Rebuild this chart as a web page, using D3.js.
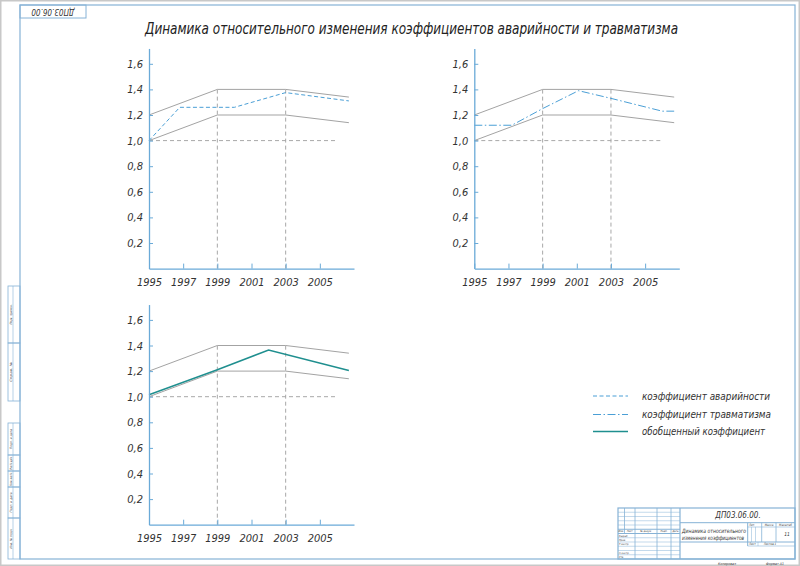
<!DOCTYPE html>
<html>
<head>
<meta charset="utf-8">
<script src="https://cdn.jsdelivr.net/npm/d3@7"></script>
<style>
  body { margin: 0; background: #fff; }
  svg text { font-family: 'Liberation Sans Narrow', 'DejaVu Sans Condensed', 'DejaVu Sans', sans-serif; font-style: italic; fill: #333; }
</style>
</head>
<body>
<div id="plot"></div>
<script>
// ---------------- data ----------------
const yearTicks = [1995, 1997, 1999, 2001, 2003, 2005];
const valueTicks = [0.2, 0.4, 0.6, 0.8, 1.0, 1.2, 1.4, 1.6];

// corridor (upper / lower) drawn in every panel
const upperBand = [[1995, 1.2], [1999, 1.4], [2003, 1.4], [2006.7, 1.34]];
const lowerBand = [[1995, 1.0], [1999, 1.2], [2003, 1.2], [2006.7, 1.14]];
const baseLine = [[1995, 1.0], [2006, 1.0]];
const markYears = [1999, 2003];
const markTop = 1.4;

const accidentRate = [[1995, 1.0], [1996.8, 1.26], [2000, 1.26], [2003, 1.375], [2006.7, 1.31]];
const injuryRate = [[1995, 1.12], [1997.2, 1.12], [1999, 1.25], [2001.1, 1.39], [2003, 1.33], [2006, 1.23], [2006.7, 1.23]];
const generalRate = [[1995, 1.015], [1999, 1.21], [2002, 1.365], [2006.7, 1.205]];

const legendLabels = ["коэффициент аварийности", "коэффициент травматизма", "обобщенный коэффициент"];
const titleText = "Динамика относительного изменения коэффициентов аварийности и травматизма";

// ---------------- styles ----------------
const axisColor = "#6aaad8";
const bandColor = "#a3a3a3";
const gridColor = "#a8a8a8";
const frameColor = "#86b2d6";
const seriesStyle = [
  { data: accidentRate, color: "#4a9fd6", dash: "4,2.5", width: 1 },
  { data: injuryRate, color: "#4a9fd6", dash: "8,2.5,1.5,2.5", width: 1 },
  { data: generalRate, color: "#1f8f8f", dash: null, width: 1.5 }
];

const W = 800, H = 566;
const svg = d3.select("#plot").append("svg").attr("width", W).attr("height", H);

// ---------------- sheet / frame ----------------
svg.append("rect").attr("x", 0.75).attr("y", 0.75).attr("width", W - 1.5).attr("height", H - 1.5)
  .attr("fill", "none").attr("stroke", "#c8c8c8").attr("stroke-width", 1.5);
svg.append("rect").attr("x", 20).attr("y", 5).attr("width", 775).attr("height", 554)
  .attr("fill", "none").attr("stroke", frameColor).attr("stroke-width", 1.2);

// stamp top-left (upside down)
svg.append("rect").attr("x", 20).attr("y", 5).attr("width", 66).attr("height", 13)
  .attr("fill", "none").attr("stroke", frameColor);
svg.append("text").attr("transform", "translate(53,11.5) rotate(180)")
  .attr("text-anchor", "middle").attr("dy", "0.35em").attr("font-size", 8).text("ДП03.06.00");

// left margin boxes
const sideBoxes = [[286, 343, "Перв. примен."], [343, 401, "Справ. №"],
  [423, 455, "Подп. и дата"], [455, 471, "Инв. № дубл."], [471, 487, "Взам. инв. №"],
  [487, 518, "Подп. и дата"], [518, 559, "Инв. № подл."]];
const side = svg.append("g");
sideBoxes.forEach(b => {
  side.append("rect").attr("x", 8).attr("y", b[0]).attr("width", 12).attr("height", b[1] - b[0])
    .attr("fill", "none").attr("stroke", frameColor).attr("stroke-width", 0.8);
  side.append("line").attr("x1", 13).attr("x2", 13).attr("y1", b[0]).attr("y2", b[1])
    .attr("stroke", frameColor).attr("stroke-width", 0.6);
  side.append("text").attr("transform", `translate(10.5,${(b[0] + b[1]) / 2}) rotate(-90)`)
    .attr("text-anchor", "middle").attr("dy", "0.35em").attr("font-size", 3)
    .attr("textLength", Math.min(20, b[1] - b[0] - 3)).attr("lengthAdjust", "spacingAndGlyphs")
    .text(b[2]);
});

// ---------------- title ----------------
svg.append("text").attr("x", 145).attr("y", 34).attr("font-size", 15)
  .attr("textLength", 533).attr("lengthAdjust", "spacingAndGlyphs")
  .style("fill", "#222").text(titleText);

// ---------------- panels ----------------
const panelW = 205, unitH = 128, yMax = 1.72;
const x = d3.scaleLinear().domain([1995, 2007]).range([0, panelW]);
const y = d3.scaleLinear().domain([0, yMax]).range([yMax * unitH, 0]);
const line = d3.line().x(d => x(d[0])).y(d => y(d[1]));

const panels = [
  { left: 149, bottom: 268.6, series: 0 },
  { left: 474.3, bottom: 268.6, series: 1 },
  { left: 149, bottom: 524.7, series: 2 }
];

panels.forEach(p => {
  const g = svg.append("g").attr("transform", `translate(${p.left},${p.bottom - yMax * unitH})`);

  // dashed guide lines
  g.append("path").attr("d", line(baseLine)).attr("fill", "none")
    .attr("stroke", gridColor).attr("stroke-dasharray", "4,3");
  g.selectAll(".mark").data(markYears).enter().append("line")
    .attr("x1", d => x(d)).attr("x2", d => x(d)).attr("y1", y(0)).attr("y2", y(markTop))
    .attr("stroke", gridColor).attr("stroke-dasharray", "4,3");

  // corridor
  [upperBand, lowerBand].forEach(b => {
    g.append("path").attr("d", line(b)).attr("fill", "none")
      .attr("stroke", bandColor).attr("stroke-width", 1);
  });

  // series
  const s = seriesStyle[p.series];
  g.append("path").attr("d", line(s.data)).attr("fill", "none")
    .attr("stroke", s.color).attr("stroke-width", s.width)
    .attr("stroke-dasharray", s.dash);

  // axes
  const yAxis = d3.axisLeft(y).tickValues(valueTicks).tickSize(-4).tickSizeOuter(0).tickPadding(6)
    .tickFormat(d => d.toFixed(1).replace(".", ","));
  const xAxis = d3.axisBottom(x).tickValues(yearTicks).tickSize(-5).tickSizeOuter(0).tickPadding(10)
    .tickFormat(d => d);
  const ya = g.append("g").call(yAxis);
  const xa = g.append("g").attr("transform", `translate(0,${y(0)})`).call(xAxis);
  [ya, xa].forEach(a => {
    a.select(".domain").attr("stroke", axisColor).attr("stroke-width", 1.3);
    a.selectAll(".tick line").attr("stroke", axisColor);
    a.selectAll(".tick text").attr("font-size", 11).style("font-family", null);
  });
});

// ---------------- legend ----------------
const legend = svg.append("g").attr("id", "legend");
const legendY = [396, 414.5, 431.5];
const legendTextLen = [128, 129, 123];
seriesStyle.forEach((s, i) => {
  legend.append("line").attr("x1", 593).attr("x2", 628).attr("y1", legendY[i]).attr("y2", legendY[i])
    .attr("stroke", s.color).attr("stroke-width", s.width).attr("stroke-dasharray", s.dash);
  legend.append("text").attr("x", 642).attr("y", legendY[i]).attr("dy", "0.35em")
    .attr("font-size", 11).attr("textLength", legendTextLen[i]).attr("lengthAdjust", "spacingAndGlyphs")
    .text(legendLabels[i]);
});

// ---------------- title block ----------------
const tb = svg.append("g").attr("stroke", frameColor).attr("fill", "none");
const tbL = 618, tbR = 795, tbT = 508, tbB = 559, tbMid = 680;
tb.append("rect").attr("x", tbL).attr("y", tbT).attr("width", tbR - tbL).attr("height", tbB - tbT).attr("stroke-width", 1.2);
const rows = 12, rowH = (tbB - tbT) / rows;
d3.range(1, rows).forEach(i => {
  tb.append("line").attr("x1", tbL).attr("x2", tbMid).attr("y1", tbT + i * rowH).attr("y2", tbT + i * rowH)
    .attr("stroke-width", i === 5 || i === 6 ? 1 : 0.5);
});
[624.5, 635, 657, 671].forEach((cx, i) => {
  tb.append("line").attr("x1", cx).attr("x2", cx).attr("y1", tbT).attr("y2", i === 0 ? tbT + 6 * rowH : tbB)
    .attr("stroke-width", 0.8);
});
tb.append("line").attr("x1", tbMid).attr("x2", tbMid).attr("y1", tbT).attr("y2", tbB).attr("stroke-width", 1.2);
tb.append("line").attr("x1", tbMid).attr("x2", tbR).attr("y1", 522.7).attr("y2", 522.7).attr("stroke-width", 1);
tb.append("line").attr("x1", tbMid).attr("x2", tbR).attr("y1", 542).attr("y2", 542).attr("stroke-width", 1);
tb.append("line").attr("x1", 747.7).attr("x2", tbR).attr("y1", 527).attr("y2", 527).attr("stroke-width", 0.6);
tb.append("line").attr("x1", 747.7).attr("x2", tbR).attr("y1", 546).attr("y2", 546).attr("stroke-width", 0.6);
tb.append("line").attr("x1", 747.7).attr("x2", 747.7).attr("y1", 522.7).attr("y2", 546).attr("stroke-width", 1);
[761.7, 776].forEach(cx => tb.append("line").attr("x1", cx).attr("x2", cx).attr("y1", 522.7).attr("y2", 542).attr("stroke-width", 0.8));
[751.5, 755.5].forEach(cx => tb.append("line").attr("x1", cx).attr("x2", cx).attr("y1", 527).attr("y2", 542).attr("stroke-width", 0.5));
tb.append("line").attr("x1", 758).attr("x2", 758).attr("y1", 542).attr("y2", 546).attr("stroke-width", 0.5);

const tbText = (tx, ty, size, str, anchor, len) => {
  const t = svg.append("text").attr("x", tx).attr("y", ty)
    .attr("font-size", size).attr("text-anchor", anchor || "start").attr("dy", "0.35em").text(str);
  if (len) t.attr("textLength", len).attr("lengthAdjust", "spacingAndGlyphs");
  return t;
};
tbText(738, 515.5, 8, "ДП03.06.00.", "middle");
tbText(682, 530.5, 6, "Динамика относительного", "start", 64);
tbText(682, 537.5, 6, "изменения коэффициентов", "start", 62);
tbText(787, 534.5, 5, "11", "middle");
tbText(752, 524.8, 3, "Лит.", "middle");
tbText(769, 524.8, 3, "Масса", "middle");
tbText(785.5, 524.8, 3, "Масштаб", "middle");
tbText(752.5, 544, 3, "Лист", "middle");
tbText(770, 544, 3, "Листов 1", "middle");
[["Изм.", 621.2], ["Лист", 629.7], ["№ докум.", 646], ["Подп.", 664], ["Дата", 675.5]].forEach(c =>
  tbText(c[1], tbT + 5.5 * rowH, 2.6, c[0], "middle"));
["Разраб.", "Пров.", "Т.контр.", "", "Н.контр.", "Утв."].forEach((t, i) =>
  tbText(619, tbT + (6.5 + i) * rowH, 2.6, t));
tbText(727, 563.5, 3.5, "Копировал", "middle");
tbText(775, 563.5, 3.5, "Формат A1", "middle");
</script>
</body>
</html>
